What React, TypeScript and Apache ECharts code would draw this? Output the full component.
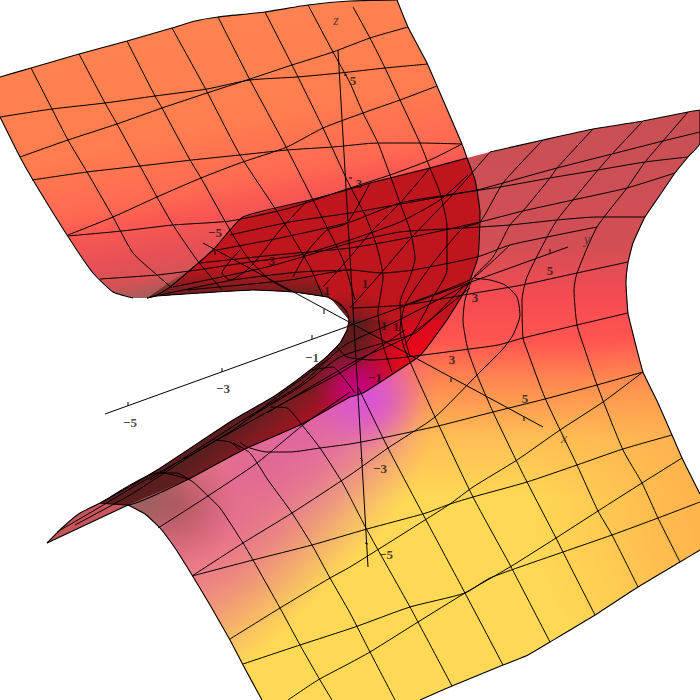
import React, { useEffect, useRef } from "react";
import * as echarts from "echarts";

type P = [number, number];

// ---- surface outlines (axis units = picture units) ----
const lipUpper: P[] = [[147,298],[157,296],[200,293],[253,290],[293,292],[327,297],[340,304],[347,312],[349,320]];
const lipLower: P[] = [[349,320],[347,330],[340,343],[323,360],[310,370],[293,383],[273,397],[233,420],[157,470],[100,503],[80,513],[63,527],[47,543]];
const lowerEdgeLeft: P[] = [[47,543],[128,505],[145,514],[160,528],[175,548],[192,575],[210,605],[230,640],[243,665],[262,700]];
const lowerEdgeBottom: P[] = [[262,700],[420,700],[452,686],[503,665],[528,655],[550,642],[595,615],[638,587],[680,562],[700,550]];
const lowerEdgeRight: P[] = [[700,494],[682,458],[672,435],[658,403],[643,372],[637,350],[632,330],[628,313],[626,283],[628,263],[633,243],[645,217],[660,195],[675,173],[688,157],[700,143],[700,110]];
const lowerEdgeTop: P[] = [[700,110],[688,112],[643,121],[593,129],[543,140],[490,152],[467,158],[430,168],[370,183],[347,190],[310,200],[243,217],[213,250],[170,287],[157,295],[147,298]];
const upperEdgeTop: P[] = [[0,77],[31,68],[79,54],[127,41],[172,28],[195,21],[218,17],[265,12],[308,5],[350,1],[397,0]];
const upperEdgeRight: P[] = [[397,0],[408,27],[427,63],[437,86],[462,144],[467,158],[475,180],[480,213],[478,257],[467,287],[447,320]];
const upperEdgeLeft: P[] = [[147,298],[133,298],[113,292],[93,273],[67,235],[33,180],[20,157],[0,117]];
const overlapRight: P[] = [[467,158],[475,180],[480,213],[478,257],[467,287],[447,320]];
const overlapBottomRight: P[] = [[447,320],[425,350],[417,358],[363,393],[350,397],[300,425],[243,450],[187,480],[128,505],[100,503]];
const tipOutline: P[] = [[47,543],[63,527],[80,513],[100,503],[128,505]];

// ---- mesh lines on the upper sheet ----
const upperA: P[][] = [
  [[31,68],[52,109],[68,140],[87,172],[113,217],[133,253],[157,275],[172,288]],
  [[79,54],[105,103],[117,124],[140,166],[157,197],[173,225],[197,260],[222,290]],
  [[127,41],[155,96],[162,108],[190,160],[201,178],[230,230],[248,258],[270,280],[290,291]],
  [[172,28],[205,88],[240,155],[278,213],[310,267],[323,297]],
  [[218,17],[250,80],[285,145],[312,198],[343,260],[355,300]],
  [[265,12],[292,65],[323,128],[347,180],[365,215],[377,247],[383,277],[378,313],[383,345],[392,372]],
  [[308,5],[333,52],[350,83],[363,113],[378,143],[390,175],[400,203],[410,230],[415,258],[410,277],[400,303],[402,327],[410,357]],
  [[353,7],[370,38],[385,68],[400,100],[420,143],[430,168],[440,193],[447,227],[447,270],[433,297],[418,325],[405,345]],
];
const upperB: P[][] = [
  [[0,117],[52,109],[105,103],[155,96],[207,89],[250,80],[297,77],[340,73],[385,68],[428,64]],
  [[20,157],[68,140],[117,124],[162,108],[207,93],[250,79],[292,65],[333,52],[370,38],[408,27]],
  [[32,180],[87,172],[140,166],[192,160],[240,155],[287,150],[333,147],[378,143],[420,143],[462,144]],
  [[68,235],[113,217],[157,197],[201,178],[240,163],[287,147],[323,128],[363,113],[400,100],[437,86]],
  [[68,236],[122,231],[173,225],[230,221],[290,208],[350,188],[390,175],[430,160],[462,144]],
  [[100,279],[157,275],[197,270],[250,262],[300,255],[350,240],[400,222],[440,200],[468,175]],
];

// ---- mesh lines on the lower sheet ----
const lowerC: P[][] = [
  [[700,132],[663,141],[612,154],[557,168],[503,183],[477,190],[412,202],[350,213],[290,222],[230,235]],
  [[688,157],[645,162],[598,170],[550,178],[500,187],[460,193],[400,203],[350,222],[280,238],[217,250]],
  [[675,173],[627,188],[573,200],[523,211],[480,222],[412,237],[350,248],[275,255],[200,263]],
  [[645,217],[597,217],[557,220],[510,225],[463,228],[400,232],[350,243],[267,267],[173,287]],
  [[628,262],[577,273],[522,285],[475,293],[405,305],[353,308]],
  [[350,270],[300,272],[233,280],[160,295]],
  [[628,313],[577,325],[523,338],[498,345],[462,350],[407,357],[373,360],[347,357],[337,347]],
  [[597,227],[557,235],[510,245],[477,257],[413,270],[382,273],[350,270],[290,280],[187,290]],
  [[510,245],[473,278],[440,292],[405,305]],
];
const lowerD: P[][] = [
  [[688,112],[663,141],[645,162],[627,188],[597,227],[577,273],[574,290],[577,325],[585,350],[597,385],[623,450],[642,483],[658,518],[680,562]],
  [[643,121],[612,154],[598,170],[573,200],[557,220],[547,237],[527,277],[522,300],[523,338],[527,350],[545,398],[577,465],[598,511],[612,535],[638,587]],
  [[593,129],[557,168],[550,178],[523,211],[510,225],[493,257],[473,278],[465,300],[463,320],[468,350],[477,375],[493,412],[516,460],[527,482],[556,538],[563,552],[595,615]],
  [[543,140],[503,183],[480,222],[463,228],[430,267],[405,305],[400,330],[405,350],[435,417],[473,497],[510,565],[550,642]],
  [[490,152],[457,190],[412,237],[382,272],[350,308]],
  [[430,168],[400,203],[373,230],[350,257],[323,287]],
  [[370,183],[347,223],[327,230],[307,252],[293,277]],
  [[308,200],[280,230],[263,252],[247,270],[230,280],[222,273],[240,250]],
  [[358,387],[388,448],[426,520],[465,593],[503,665]],
  [[350,497],[367,530],[410,607],[418,622],[452,686]],
  [[160,472],[190,480],[208,496],[220,508],[243,543],[253,560],[280,608],[300,645],[320,680],[332,700]],
  [[233,443],[250,453],[268,480],[292,513],[312,545],[330,578],[350,613],[370,652],[395,700]],
  [[270,407],[287,408],[302,425],[320,448],[342,482],[350,497]],
];
const lowerF: P[][] = [
  [[192,576],[253,560],[312,545],[367,529],[426,513],[450,504],[473,497],[527,482],[577,465],[623,449],[672,435]],
  [[158,528],[208,496],[257,463],[303,425],[350,392]],
  [[230,639],[280,608],[330,578],[350,567],[425,520],[450,504],[473,487],[517,460],[560,430],[603,402],[643,372]],
  [[243,664],[300,645],[355,627],[410,607],[465,593],[490,578],[563,552],[612,535],[658,518],[700,502]],
  [[288,700],[318,680],[350,663],[370,652],[418,622],[465,593],[510,567],[556,538],[598,511],[642,483],[682,458]],
  [[192,576],[243,543],[292,513],[350,475],[388,448],[435,417],[477,375],[502,350],[513,335],[520,315],[517,297],[505,285],[490,280],[473,278]],
  [[240,442],[247,447],[267,452],[290,452],[320,448],[350,444],[382,438],[438,426],[493,412],[545,399],[597,385],[643,372]],
];
const sliverLines: P[][] = [
  [[57,532],[100,507],[140,483],[187,457],[233,430],[273,400],[327,360]],
  [[110,497],[157,473],[177,473],[190,480]],
  [[213,440],[230,442],[240,450]],
  [[250,417],[300,387],[340,357],[383,343],[417,332],[463,287]],
  [[267,413],[357,360],[407,337],[470,288]],
  [[150,480],[243,420],[300,385],[345,345],[395,322],[470,283]],
  [[310,370],[333,367],[343,377],[355,393]],
  [[75,525],[130,495],[200,450],[280,405],[345,370],[405,330]],
];

// ---- axes ----
const xAxisLine: P[] = [[203,243],[543,427]];
const yAxisLine: P[] = [[105,414],[568,247]];
const zAxisLine: P[] = [[338,50],[368,567]];
const ticks: P[][] = [
  [[215,250],[215,255]],[[324,309],[324,314]],[[451,378],[451,382]],[[524,417],[524,421]],
  [[128,402],[128,406]],[[222,368],[222,372]],[[312,335],[312,339]],[[550,249],[550,253]],
  [[360,458],[363,461]],[[365,543],[368,544]],[[344,75],[347,75]],[[349,178],[352,178]],
];
const tickLabels: [string, number, number][] = [
  ["−5",215,232],["−3",268,260],["1",327,290],["1",365,283],["1",384,325],["1",396,326],["3",475,297],["3",452,359],
  ["5",525,398],["5",550,270],["−1",375,377],["−1",312,357],["−3",223,388],["−5",130,422],["−3",380,468],["−5",386,554],
  ["5",353,80],["3",359,183],
];
const axisNames: [string, number, number][] = [["z",336,20],["x",564,438],["y",587,239]];

// colour patches along the magenta band of the lower sheet: x, y, radius, r, g, b
const bandPatches: [number, number, number, number, number, number][] = [
  [345,385,95,215,80,215],[320,405,120,215,80,205],[295,430,135,216,82,185],[265,460,140,218,84,170],
  [235,490,140,220,85,155],[205,520,140,224,88,150],[175,550,140,228,92,150],[150,575,130,232,100,150],
];

const RG = (x: number, y: number, r: number, rgb: string, a = 1) =>
  new echarts.graphic.RadialGradient(x, y, r, [
    { offset: 0, color: `rgba(${rgb},${a})` },
    { offset: 0.35, color: `rgba(${rgb},${a * 0.7})` },
    { offset: 0.7, color: `rgba(${rgb},${a * 0.28})` },
    { offset: 1, color: `rgba(${rgb},0)` },
  ], true);
const LG = (x: number, y: number, x2: number, y2: number, stops: [number, string][]) =>
  new echarts.graphic.LinearGradient(x, y, x2, y2, stops.map(([offset, color]) => ({ offset, color })), true);

export default function App() {
  const ref = useRef<HTMLDivElement>(null);
  useEffect(() => {
    document.body.style.margin = "0";
    const chart = echarts.init(ref.current!, undefined, { renderer: "svg" });

    const lowerOutline = [...lowerEdgeLeft, ...lowerEdgeBottom, ...lowerEdgeRight, ...lowerEdgeTop, ...lipUpper, ...lipLower];
    const upperOutline = [...upperEdgeTop, ...upperEdgeRight, [352, 322] as P, ...[...lipUpper].reverse(), ...upperEdgeLeft];
    const overlapTop = lowerEdgeTop.slice(6, 14);
    const darkUpper = [[157, 296] as P, ...[...overlapTop].reverse(), ...overlapRight, [349, 320] as P, ...[...lipUpper].reverse().slice(1, 8)];
    const darkLower = [...overlapBottomRight, ...[...lipLower].reverse().slice(2, 12), [349, 320] as P, [447, 320] as P];
    const lipBand: P[] = [[147, 298], [190, 268], [300, 262], [349, 320], ...[...lipUpper].reverse().slice(1, 8)];

    const fills: { pts: P[]; fill: any }[] = [
      { pts: lowerOutline, fill: LG(540, 130, 540, 700, [
        [0, "rgb(200,80,85)"], [0.2, "rgb(210,78,85)"], [0.3, "rgb(248,75,82)"], [0.37, "rgb(255,85,80)"],
        [0.44, "rgb(255,135,80)"], [0.54, "rgb(255,190,85)"], [0.65, "rgb(255,217,85)"], [1, "rgb(255,217,85)"] ]) },
      { pts: lowerOutline, fill: RG(735, 510, 210, "255,165,75", 0.85) },
      ...bandPatches.map(([x, y, rad, r, g, b]) => ({ pts: lowerOutline, fill: RG(x, y, rad, `${r},${g},${b}`, 0.45) })),
      { pts: lowerOutline, fill: RG(368, 398, 55, "215,80,220", 0.9) },
      { pts: lowerOutline, fill: RG(175, 505, 62, "175,85,95", 0.9) },
      { pts: lowerOutline, fill: RG(135, 495, 55, "140,90,88", 0.9) },
      { pts: tipOutline, fill: "rgb(200,85,90)" },
      { pts: upperOutline, fill: LG(70, 60, 130, 360, [
        [0, "rgb(255,130,80)"], [0.3, "rgb(255,125,80)"], [0.5, "rgb(255,105,82)"], [0.57, "rgb(250,88,82)"],
        [0.68, "rgb(230,80,85)"], [0.75, "rgb(215,82,86)"], [0.8, "rgb(172,90,90)"], [1, "rgb(172,90,90)"] ]) },
      { pts: darkUpper, fill: "rgb(190,22,28)" },
      { pts: darkLower, fill: LG(270, 395, 330, 465, [
        [0, "rgb(90,30,30)"], [0.2, "rgb(120,28,32)"], [0.45, "rgb(160,20,35)"], [0.7, "rgb(190,18,28)"], [1, "rgb(190,18,28)"] ]) },
      { pts: lipBand, fill: LG(0, 268, 0, 298, [[0, "rgba(100,30,30,0)"], [1, "rgba(100,30,30,1)"]]) },
      { pts: darkLower, fill: RG(420, 350, 65, "240,5,25", 0.95) },
      { pts: darkLower, fill: RG(440, 325, 50, "225,12,25", 0.6) },
      { pts: darkLower, fill: RG(358, 390, 45, "200,0,130") },
      { pts: darkUpper, fill: RG(352, 335, 45, "95,28,28") },
      { pts: darkLower, fill: RG(350, 335, 35, "95,28,28") },
    ];

    const meshes: P[][] = [...upperA, ...upperB, ...lowerC, ...lowerD, ...lowerF, ...sliverLines];
    const outlines: P[][] = [upperEdgeTop, upperEdgeRight.slice(0, 6), upperEdgeLeft.slice(1), lipUpper, lipLower, lowerEdgeLeft.slice(1), lowerEdgeBottom.slice(1), lowerEdgeRight, lowerEdgeTop.slice(0, 6), lowerEdgeTop.slice(6, 16), overlapRight, overlapBottomRight, [tipOutline[0], tipOutline[4]]];
    const axesLines: P[][] = [xAxisLine, yAxisLine, zAxisLine, ...ticks];

    const line = (data: P[], width: number, smooth: number, z: number) => ({
      type: "line", data, symbol: "none", smooth, silent: true, clip: true, z,
      lineStyle: { color: "#000", width }, emphasis: { disabled: true },
    });

    chart.setOption({
      animation: false,
      backgroundColor: "#fff",
      grid: { left: 0, right: 0, top: 0, bottom: 0 },
      xAxis: { type: "value", min: 0, max: 700, show: false },
      yAxis: { type: "value", min: 0, max: 700, inverse: true, show: false },
      tooltip: { show: false },
      series: [
        {
          type: "custom", z: 1, silent: true, clip: true,
          data: fills.map((_, i) => [i]),
          renderItem: (_p: any, api: any) => {
            const f = fills[api.value(0)];
            return { type: "polygon", shape: { points: f.pts.map((q) => api.coord(q)) }, style: { fill: f.fill, stroke: "none" } };
          },
        },
        ...meshes.map((m) => line(m, 1, 0.2, 3)),
        ...outlines.map((m) => line(m, 1.1, 0.15, 4)),
        ...axesLines.map((m) => line(m, 1, 0, 5)),
        {
          type: "scatter", z: 6, silent: true, symbolSize: 0,
          data: tickLabels.map(([t, x, y]) => ({ value: [x, y], name: t })),
          label: { show: true, position: "inside", formatter: "{b}", color: "#1a1212", fontFamily: "Liberation Serif", fontWeight: "bold", fontSize: 13 },
        },
        {
          type: "scatter", z: 6, silent: true, symbolSize: 0,
          data: axisNames.map(([t, x, y]) => ({ value: [x, y], name: t })),
          label: { show: true, position: "inside", formatter: "{b}", color: "#3a2a2a", fontFamily: "Liberation Serif", fontStyle: "italic", fontSize: 14 },
        },
      ],
    });
    return () => chart.dispose();
  }, []);
  return <div ref={ref} style={{ width: 700, height: 700 }} />;
}
